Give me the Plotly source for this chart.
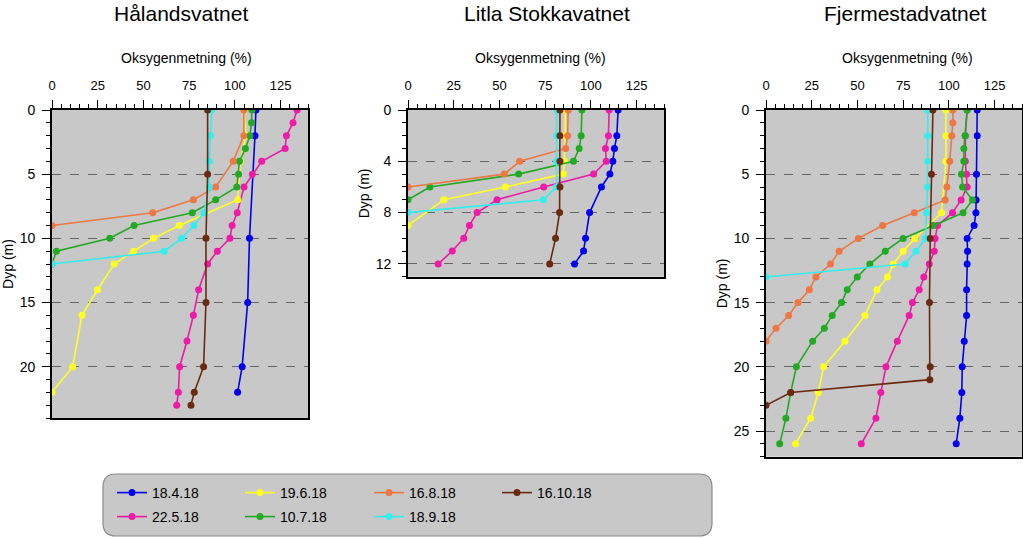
import plotly.graph_objects as go

W, H = 1023, 538

DATES = ["18.4.18", "22.5.18", "19.6.18", "10.7.18", "16.8.18", "18.9.18", "16.10.18"]
COLORS = ["#0000ee", "#ee1aa8", "#ffff22", "#22aa22", "#ee7744", "#33eeee", "#6b2a10"]

LAKES = ["Hålandsvatnet", "Litla Stokkavatnet", "Fjermestadvatnet"]
X_TITLE = "Oksygenmetning (%)"
Y_TITLE = "Dyp (m)"
X_TICKS = [0, 25, 50, 75, 100, 125]

# ---- Hålandsvatnet ----
HAL_DEPTH = [
    [0, 2, 10, 15, 20, 22],
    [0, 1, 2, 3, 4, 5, 6, 8, 9, 10, 11, 12, 14, 16, 18, 20, 22, 23],
    [0, 2, 4, 7, 9, 10, 11, 12, 14, 16, 20, 22],
    [0, 1, 2, 3, 4, 5, 6, 7, 8, 9, 10, 11, 12],
    [0, 2, 4, 6, 7, 8, 9],
    [0, 2, 4, 6, 8, 9, 10, 11, 12],
    [0, 5, 10, 15, 20, 22, 23],
]
HAL_OXY = [
    [111.5, 111, 108, 107, 104, 101.5],
    [134, 131.8, 128.2, 127.5, 114.7, 109.6, 105, 101.3, 98.5, 97.3, 90.4, 85.1, 80.2, 77.3, 73.8, 69.8, 69.1, 68.2],
    [105, 106, 103, 101.6, 69.6, 55.5, 44.7, 34, 24.9, 16.4, 11.3, 0],
    [109.3, 109.1, 108.2, 105.8, 102.5, 102, 101.1, 89.5, 76.7, 44.9, 31.6, 2.4, 0],
    [104.9, 104.9, 99.1, 89.5, 77.3, 55.1, 0],
    [87.3, 86.5, 86, 86, 83.1, 77.6, 70.9, 61.3, 0],
    [85.1, 85.1, 84.2, 84.2, 82.9, 77.8, 76],
]

# ---- Litla Stokkavatnet ----
LIT_DEPTH = [
    [0, 2, 3, 4, 5, 6, 8, 10, 11, 12],
    [0, 2, 3, 4, 5, 6, 7, 8, 9, 10, 11, 12],
    [0, 2, 4, 5, 6, 7, 9],
    [0, 2, 3, 4, 5, 6, 7],
    [0, 2, 3, 4, 5, 6],
    [0, 2, 4, 6, 7, 8],
    [0, 2, 4, 6, 8, 10, 12],
]
LIT_OXY = [
    [114.9, 114.2, 112.9, 112, 110.4, 105.8, 99.3, 97.1, 96, 91.1],
    [110, 109.6, 108, 108.4, 101.5, 74.2, 48.7, 37.8, 33.6, 30.5, 24.2, 16.5],
    [86, 86, 85.5, 85, 53.3, 19.6, 0],
    [95.1, 94.7, 93.6, 90.5, 60.5, 12, 0],
    [87.6, 87.3, 86.2, 61.1, 52.7, 0],
    [81.3, 81.3, 81.3, 81.3, 74, 0],
    [83.1, 83.1, 83.1, 83.1, 82.9, 80.7, 77.5],
]

# ---- Fjermestadvatnet ----
FJE_DEPTH = [
    [0, 2, 5, 7, 8, 9, 10, 11, 12, 14, 16, 18, 20, 22, 24, 26],
    [0, 2, 4, 5, 6, 7, 8, 9, 10, 11, 12, 13, 14, 15, 16, 18, 20, 22, 24, 26],
    [0, 2, 4, 8, 10, 11, 12, 13, 14, 16, 18, 20, 22, 24, 26],
    [0, 2, 3, 4, 5, 6, 7, 8, 9, 10, 11, 12, 13, 14, 15, 16, 17, 18, 20, 22, 24, 26],
    [0, 1, 2, 4, 6, 7, 8, 9, 10, 11, 12, 13, 14, 15, 16, 17, 18],
    [0, 2, 4, 6, 8, 10, 11, 12, 13],
    [0, 5, 10, 15, 20, 21, 22, 23],
]
FJE_OXY = [
    [115.5, 115.5, 115.1, 114.9, 114.8, 113.8, 110, 110.2, 110, 109.7, 109.7, 108.4, 107.3, 107.1, 106, 104],
    [110, 109, 109, 109.7, 110, 106.7, 102, 93.8, 92.5, 92, 89.3, 86.3, 83.8, 80.1, 78.3, 71.8, 65.6, 62.8, 60.1, 52.1],
    [98.4, 98.4, 98.4, 96, 81.4, 75, 69.6, 66.5, 60.7, 54.1, 43.2, 31.5, 28.6, 24.4, 16.2],
    [110, 108.9, 108.2, 108.2, 106.9, 107.5, 112.9, 107.8, 91.4, 75, 65.2, 56.8, 49.9, 44.4, 41.3, 36.2, 31.9, 25.5, 16.6, 13.5, 10.9, 7.5],
    [102.2, 102.2, 101.6, 100.5, 98.9, 98, 81.1, 63.8, 50.5, 40, 35.3, 27.3, 23.7, 17.5, 12.4, 5.5, 0],
    [88.5, 88.5, 88.5, 88.3, 87.8, 87.3, 82, 76.1, 0],
    [91.3, 90.5, 89.8, 89.4, 89.8, 89.6, 13.5, 0],
]

Y_MAX = [24, 13, 27]
Y_DTICK = [5, 4, 5]

FONT = "Liberation Sans Narrow, Arial Narrow, Liberation Sans, Arial, sans-serif"

# panel pixel boxes (left, right, top, bottom)
PANELS = [(52, 308, 110, 418), (408, 664, 110, 276.7), (766, 1022, 110, 456.7)]
LAKE_TITLE_X = [181, 547, 905]
X_TITLE_X = [186, 540, 907]


def px(x):
    return x / W


def py(y):
    return 1 - y / H


fig = go.Figure()
all_depth = [HAL_DEPTH, LIT_DEPTH, FJE_DEPTH]
all_oxy = [HAL_OXY, LIT_OXY, FJE_OXY]

for p in range(3):
    sfx = "" if p == 0 else str(p + 1)
    for i, d in enumerate(DATES):
        fig.add_trace(go.Scatter(
            x=all_oxy[p][i], y=all_depth[p][i], mode="lines+markers",
            name=d, legendgroup=d, showlegend=(p == 0),
            legend="legend" if i == 0 else f"legend{i + 1}",
            line=dict(color=COLORS[i], width=1.6),
            marker=dict(color=COLORS[i], size=7),
            xaxis="x" + sfx, yaxis="y" + sfx,
        ))

layout = dict(
    width=W, height=H, margin=dict(l=0, r=0, t=0, b=0, autoexpand=False),
    paper_bgcolor="white", plot_bgcolor="#c8c8c8",
    font=dict(family=FONT, size=13, color="black"),
    annotations=[], shapes=[],
)

for p in range(3):
    l, r, t, b = PANELS[p]
    sfx = "" if p == 0 else str(p + 1)
    layout["xaxis" + sfx] = dict(
        domain=[px(l), px(r)], anchor="y" + sfx, side="top", range=[0, 140],
        tickvals=X_TICKS, ticks="outside", ticklen=8, tickwidth=1.2, tickcolor="black",
        minor=dict(dtick=5, ticks="outside", ticklen=4, tickcolor="black", showgrid=False),
        showgrid=False, zeroline=False, showline=True, linecolor="black", linewidth=1.6, mirror=True,
        tickfont=dict(size=13), ticklabelstandoff=5,
    )
    layout["yaxis" + sfx] = dict(
        domain=[py(b), py(t)], anchor="x" + sfx, range=[Y_MAX[p], 0],
        tick0=0, dtick=Y_DTICK[p], ticks="outside", ticklen=8, tickwidth=1.2, tickcolor="black",
        minor=dict(dtick=1, ticks="outside", ticklen=4, tickcolor="black", showgrid=False),
        showgrid=True, gridcolor="#666666", griddash="dash", gridwidth=1,
        zeroline=False, showline=True, linecolor="black", linewidth=1.6, mirror=True,
        tickfont=dict(size=14), ticklabelstandoff=4,
        title=dict(text=Y_TITLE, font=dict(size=14), standoff=3),
    )
    layout["annotations"].append(dict(
        text=LAKES[p], x=px(LAKE_TITLE_X[p]), y=py(14), xref="paper", yref="paper",
        xanchor="center", yanchor="middle", showarrow=False, font=dict(size=21),
    ))
    layout["annotations"].append(dict(
        text=X_TITLE, x=px(X_TITLE_X[p]), y=py(58), xref="paper", yref="paper",
        xanchor="center", yanchor="middle", showarrow=False, font=dict(size=14),
    ))

# legend frame (rounded box)
L0, R0, T0, B0, RAD = 103, 712, 474, 536, 13
path = (
    f"M {px(L0 + RAD)} {py(T0)} L {px(R0 - RAD)} {py(T0)} "
    f"Q {px(R0)} {py(T0)} {px(R0)} {py(T0 + RAD)} L {px(R0)} {py(B0 - RAD)} "
    f"Q {px(R0)} {py(B0)} {px(R0 - RAD)} {py(B0)} L {px(L0 + RAD)} {py(B0)} "
    f"Q {px(L0)} {py(B0)} {px(L0)} {py(B0 - RAD)} L {px(L0)} {py(T0 + RAD)} "
    f"Q {px(L0)} {py(T0)} {px(L0 + RAD)} {py(T0)} Z"
)
layout["shapes"].append(dict(type="path", path=path, xref="paper", yref="paper",
                             fillcolor="#c8c8c8", line=dict(color="#8a8a8a", width=1.2),
                             layer="below"))

# legend placement: 4 columns x 2 rows (column-major)
COL_X = [112, 240, 369, 497]
ROW_Y = [493, 517]
for i in range(len(DATES)):
    col, row = i // 2, i % 2
    key = "legend" if i == 0 else f"legend{i + 1}"
    layout[key] = dict(
        x=px(COL_X[col]), y=py(ROW_Y[row]), xanchor="left", yanchor="middle",
        bgcolor="rgba(0,0,0,0)", borderwidth=0, font=dict(size=14),
        orientation="v", itemwidth=30,
    )

fig.update_layout(**layout)
fig.write_html("out.html", config={"displayModeBar": False},
               post_script="document.body.style.margin='0';document.body.style.overflow='hidden';")
